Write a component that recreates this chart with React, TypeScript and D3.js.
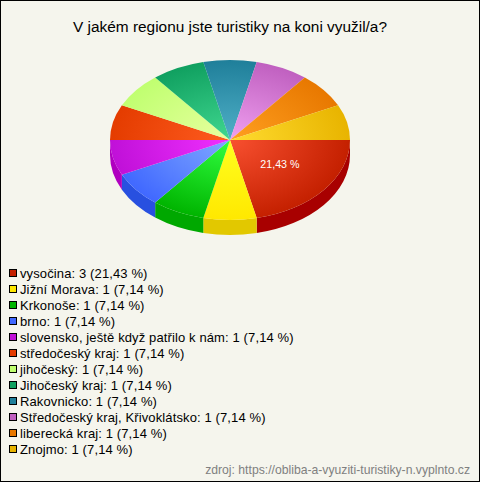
import * as d3 from "d3";

const title = "V jakém regionu jste turistiky na koni využil/a?";
const source = "zdroj: https://obliba-a-vyuziti-turistiky-n.vyplnto.cz";

const categories = [
  "vysočina",
  "Jižní Morava",
  "Krkonoše",
  "brno",
  "slovensko, ještě když patřilo k nám",
  "středočeský kraj",
  "jihočeský",
  "Jihočeský kraj",
  "Rakovnicko",
  "Středočeský kraj, Křivoklátsko",
  "liberecká kraj",
  "Znojmo",
];
const counts = [3, 1, 1, 1, 1, 1, 1, 1, 1, 1, 1, 1];
const percents = ["21,43", "7,14", "7,14", "7,14", "7,14", "7,14", "7,14", "7,14", "7,14", "7,14", "7,14", "7,14"];

// legend swatch / outer rim colour, centre highlight colour, side wall colour
const rimColors = ["#c42000", "#ffe800", "#00b400", "#4068ff", "#c010d8", "#e43c00", "#c0ff70", "#10a060", "#1f7f9a", "#c060c0", "#e87800", "#e8b400"];
const innerColors = ["#f85030", "#ffff20", "#30ff40", "#80a8ff", "#f030ff", "#ff5c20", "#e8ffa0", "#40d890", "#50b0c8", "#f0a0f0", "#ffa020", "#ffdc30"];
const sideColors = ["#a80000", "#e2c800", "#00a800", "#2850e0", "#b000c0"];

const width = 480;
const height = 482;
const cx = 230;
const cy = 140;
const rx = 120;
const ry = 80;
const depth = 15;
const squash = ry / rx;

export default function App() {
  const pie = d3
    .pie<number>()
    .sort(null)
    .startAngle(Math.PI / 2)
    .endAngle(Math.PI / 2 + 2 * Math.PI);
  const slices = pie(counts);
  const arc = d3.arc<d3.PieArcDatum<number>>().innerRadius(0).outerRadius(rx);

  // side wall of one slice, drawn in the squashed coordinates of the pie
  const wall = (a0: number, a1: number) => {
    const p = d3.path();
    const d = depth / squash;
    p.moveTo(rx * Math.sin(a0), -rx * Math.cos(a0));
    p.arc(0, 0, rx, a0 - Math.PI / 2, a1 - Math.PI / 2);
    p.lineTo(rx * Math.sin(a1), -rx * Math.cos(a1) + d);
    p.arc(0, d, rx, a1 - Math.PI / 2, a0 - Math.PI / 2, true);
    p.closePath();
    return p.toString();
  };

  const legendY = d3.scalePoint<string>().domain(categories).range([274, 450]);
  const labelPos = arc.centroid(slices[0]);

  return (
    <svg
      width={width}
      height={height}
      style={{ position: "absolute", left: 0, top: 0, fontFamily: "'Liberation Sans', Arial, sans-serif" }}
    >
      <defs>
        {categories.map((c, i) => (
          <radialGradient key={c} id={`slice-${i}`} gradientUnits="userSpaceOnUse" cx={0} cy={0} r={rx}>
            <stop offset="0%" stopColor={innerColors[i]} />
            <stop offset="100%" stopColor={rimColors[i]} />
          </radialGradient>
        ))}
      </defs>
      <rect x={0.5} y={0.5} width={width - 1} height={height - 1} fill="#f5f5ed" stroke="#000" />
      <text x={230} y={32} textAnchor="middle" fontSize={15.4} fill="#000">
        {title}
      </text>

      <g transform={`translate(${cx},${cy}) scale(1,${squash})`}>
        {sideColors.map((color, i) => (
          <path key={i} d={wall(slices[i].startAngle, slices[i].endAngle)} fill={color} />
        ))}
        {slices.map((s, i) => (
          <path key={i} d={arc(s)!} fill={`url(#slice-${i})`} />
        ))}
      </g>
      <text
        x={cx + labelPos[0] + 3}
        y={cy + labelPos[1] * squash + 3}
        textAnchor="middle"
        fontSize={10.7}
        fill="#fff"
      >
        {percents[0]} %
      </text>

      {categories.map((c, i) => (
        <g key={c} transform={`translate(0,${legendY(c)})`}>
          <rect x={9.5} y={-4.5} width={7} height={7} fill={rimColors[i]} stroke="#000" />
          <text x={20} y={4} fontSize={13} letterSpacing={0.12} fill="#000">
            {`${c}: ${counts[i]} (${percents[i]} %)`}
          </text>
        </g>
      ))}

      <text x={470} y={474} textAnchor="end" fontSize={12.2} fill="#808080">
        {source}
      </text>
    </svg>
  );
}
